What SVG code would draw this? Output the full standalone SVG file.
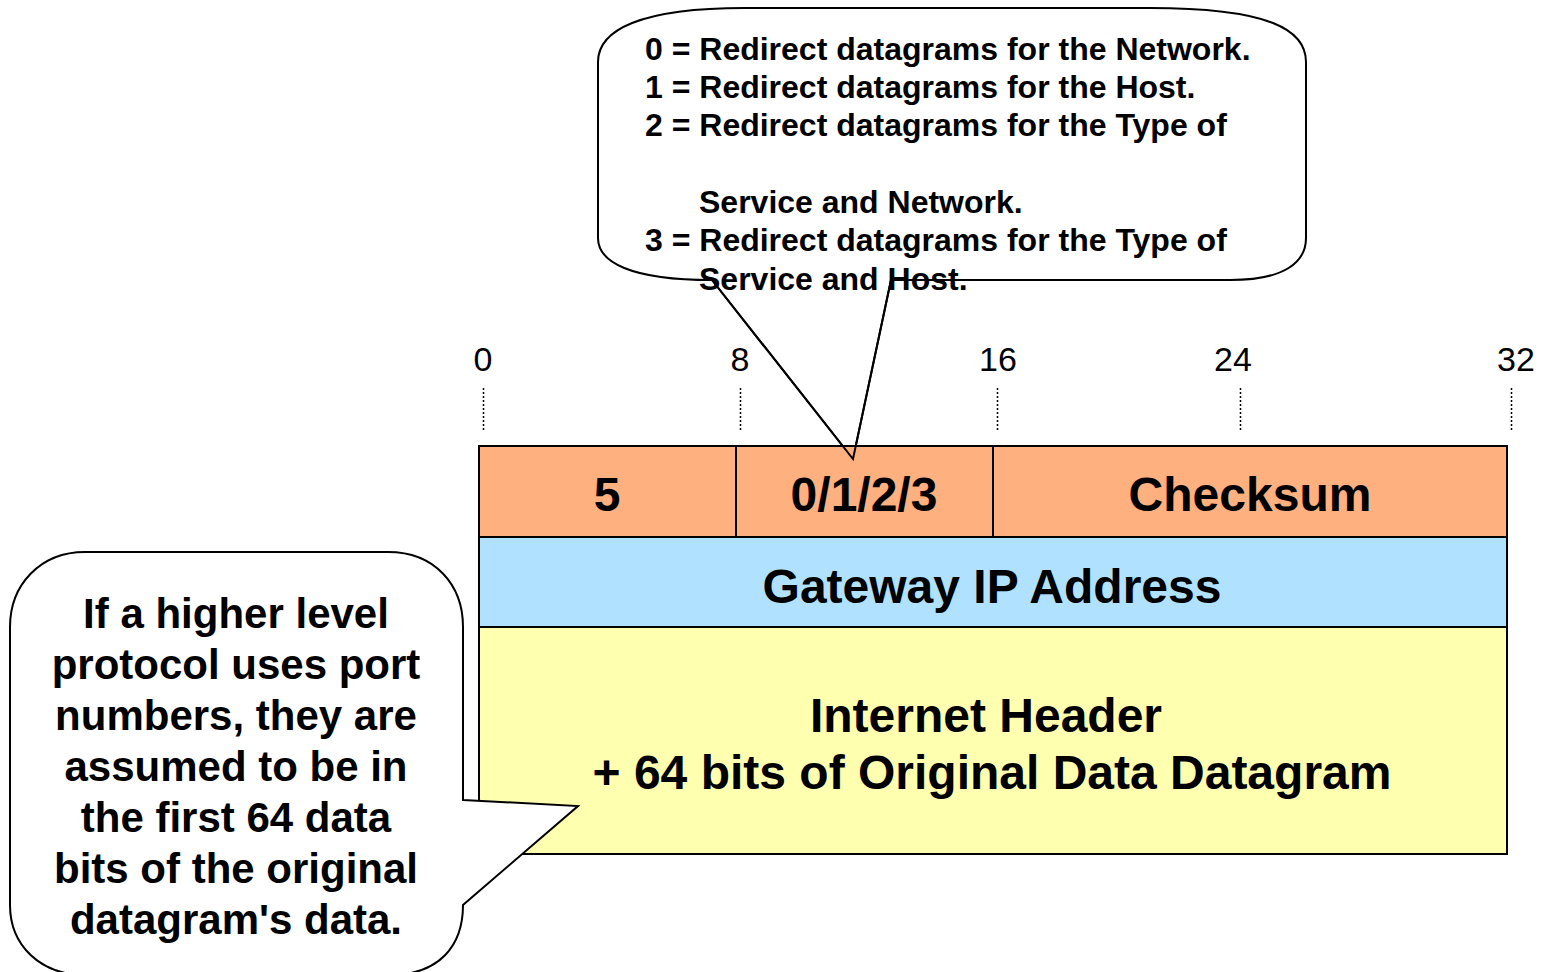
<svg xmlns="http://www.w3.org/2000/svg" width="1541" height="972" viewBox="0 0 1541 972">
<style>
.ruler{font-family:"Liberation Sans",Arial,sans-serif;font-size:34px;fill:#000;text-anchor:middle}
.tick{stroke:#000;stroke-width:1.5;stroke-dasharray:2,2;fill:none}
.field{stroke:#000;stroke-width:2}
.lbl{font-family:"Liberation Sans",Arial,sans-serif;font-weight:bold;font-size:48px;fill:#000;text-anchor:middle}
.co{fill:#fff;stroke:#000;stroke-width:2}
.cot{font-family:"Liberation Sans",Arial,sans-serif;font-weight:bold;font-size:32px;fill:#000}
.clt{font-family:"Liberation Sans",Arial,sans-serif;font-weight:bold;font-size:42px;fill:#000;text-anchor:middle}
.ptr{stroke:#000;stroke-width:2;fill:none}
</style>
<rect width="1541" height="972" fill="#fff"/>
<g id="callout-codes">
<path class="co" d="M712,280 L853,459 L891,280 L1230,280 C1285,280 1306,262 1306,238 L1306,62 C1306,30 1270,8 1150,8 L745,8 C640,8 598,30 598,62 L598,238 C598,262 630,280 712,280 Z"/>
<text class="cot" x="645" y="60">0 = Redirect datagrams for the Network.</text>
<text class="cot" x="645" y="98">1 = Redirect datagrams for the Host.</text>
<text class="cot" x="645" y="136">2 = Redirect datagrams for the Type of</text>
<text class="cot" x="699" y="213">Service and Network.</text>
<text class="cot" x="645" y="251">3 = Redirect datagrams for the Type of</text>
<text class="cot" x="699" y="290">Service and Host.</text>
</g>
<g id="ruler">
<text class="ruler" x="483" y="371">0</text>
<text class="ruler" x="740" y="371">8</text>
<text class="ruler" x="998" y="371">16</text>
<text class="ruler" x="1233" y="371">24</text>
<text class="ruler" x="1516" y="371">32</text>
<line class="tick" x1="483.5" y1="388" x2="483.5" y2="430"/>
<line class="tick" x1="740.5" y1="388" x2="740.5" y2="430"/>
<line class="tick" x1="997.5" y1="388" x2="997.5" y2="430"/>
<line class="tick" x1="1240.5" y1="388" x2="1240.5" y2="430"/>
<line class="tick" x1="1511.5" y1="388" x2="1511.5" y2="430"/>
</g>
<g id="field-type">
<rect class="field" x="479" y="446" width="257" height="91" fill="#FFB07F"/>
<text class="lbl" x="607" y="511">5</text>
</g>
<g id="field-code">
<rect class="field" x="736" y="446" width="257" height="91" fill="#FFB07F"/>
<text class="lbl" x="864" y="511">0/1/2/3</text>
</g>
<g id="field-checksum">
<rect class="field" x="993" y="446" width="514" height="91" fill="#FFB07F"/>
<text class="lbl" x="1250" y="511">Checksum</text>
</g>
<g id="field-gateway">
<rect class="field" x="479" y="537" width="1028" height="90" fill="#B0E2FF"/>
<text class="lbl" x="992" y="603">Gateway IP Address</text>
</g>
<g id="field-header">
<rect class="field" x="479" y="627" width="1028" height="227" fill="#FFFFB0"/>
<text class="lbl" x="986" y="732">Internet Header</text>
<text class="lbl" x="992" y="789">+ 64 bits of Original Data Datagram</text>
</g>
<g id="connectors">
<polyline class="ptr" points="712,280 853,459 891,280"/>
</g>
<g id="callout-note">
<path class="co" d="M463,800 L578,806 L463,905 L463,905 C463,945 440,975 390,975 L85,975 C40,975 10,945 10,905 L10,627 C10,585 40,552 85,552 L388,552 C435,552 463,585 463,627 Z"/>
<text class="clt" x="236" y="628">If a higher level</text>
<text class="clt" x="236" y="679">protocol uses port</text>
<text class="clt" x="236" y="730">numbers, they are</text>
<text class="clt" x="236" y="781">assumed to be in</text>
<text class="clt" x="236" y="832">the first 64 data</text>
<text class="clt" x="236" y="883">bits of the original</text>
<text class="clt" x="236" y="934">datagram's data.</text>
</g>
</svg>
